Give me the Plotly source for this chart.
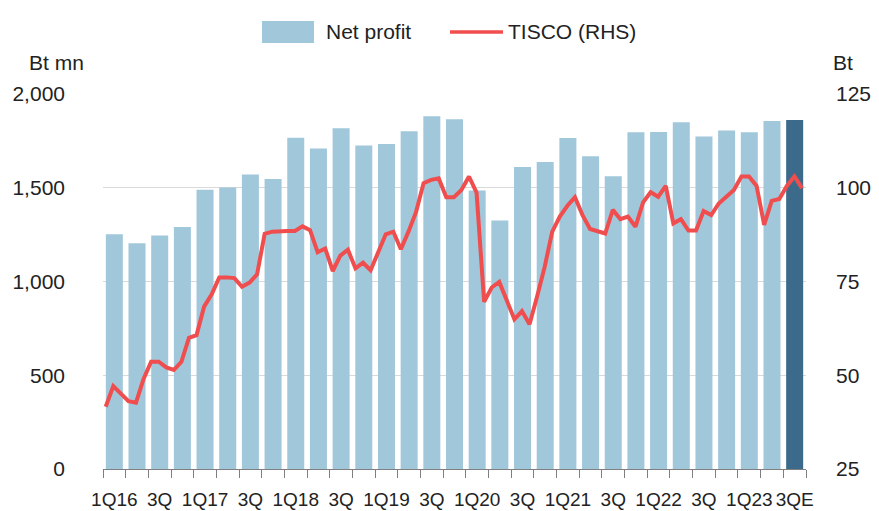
import plotly.graph_objects as go

# Quarterly net profit (Bt mn)
quarters = ["1Q16", "2Q16", "3Q16", "4Q16", "1Q17", "2Q17", "3Q17", "4Q17",
            "1Q18", "2Q18", "3Q18", "4Q18", "1Q19", "2Q19", "3Q19", "4Q19",
            "1Q20", "2Q20", "3Q20", "4Q20", "1Q21", "2Q21", "3Q21", "4Q21",
            "1Q22", "2Q22", "3Q22", "4Q22", "1Q23", "2Q23", "3Q23E"]
tick_labels = ["1Q16", "", "3Q", "", "1Q17", "", "3Q", "", "1Q18", "", "3Q", "",
               "1Q19", "", "3Q", "", "1Q20", "", "3Q", "", "1Q21", "", "3Q", "",
               "1Q22", "", "3Q", "", "1Q23", "", "3QE"]
net_profit = [1252, 1204, 1246, 1291, 1490, 1502, 1571, 1547,
              1767, 1710, 1817, 1726, 1733, 1801, 1881, 1865,
              1486, 1326, 1611, 1637, 1765, 1668, 1561, 1796,
              1797, 1849, 1773, 1806, 1796, 1856, 1861]

# Monthly TISCO share price (Bt), Jan-16 .. Sep-23
tisco_price = [41.6, 47.1, 45.1, 43.1, 42.7, 49.0, 53.6, 53.6, 52.1, 51.4,
               53.6, 60.0, 60.7, 68.3, 71.6, 76.1, 76.1, 75.9, 73.6, 74.7,
               76.9, 87.7, 88.3, 88.5, 88.5, 88.5, 89.7, 88.7, 82.8, 83.8,
               77.8, 81.9, 83.5, 78.5, 80.0, 78.0, 82.5, 87.6, 88.3, 83.6,
               88.3, 93.5, 101.2, 102.1, 102.5, 97.5, 97.5, 99.4, 103.0, 98.7,
               69.6, 73.4, 74.9, 69.6, 64.9, 67.1, 63.6, 71.0, 78.9, 88.3,
               92.3, 95.2, 97.5, 92.7, 89.0, 88.4, 87.8, 94.1, 91.6, 92.3,
               89.6, 96.1, 98.8, 97.6, 100.5, 90.5, 91.6, 88.6, 88.6, 93.8,
               92.7, 95.8, 97.6, 99.4, 103.0, 103.0, 100.5, 90.1, 96.5, 97.0,
               100.5, 103.0, 99.9]
months = list(range(len(tisco_price)))

LIGHT = "#A1C7DB"
DARK = "#3C6A8A"
RED = "#F04E4E"
FONT = "Liberation Sans, Arial, sans-serif"
TXT = "#222222"

bar_colors = [LIGHT] * (len(quarters) - 1) + [DARK]

fig = go.Figure()
fig.add_trace(go.Bar(
    x=quarters, y=net_profit, name="Net profit",
    marker=dict(color=bar_colors, line=dict(width=0)),
    showlegend=False, xaxis="x", yaxis="y",
))
fig.add_trace(go.Scatter(
    x=months, y=tisco_price, name="TISCO (RHS)", mode="lines",
    line=dict(color=RED, width=4),
    showlegend=False, xaxis="x2", yaxis="y2",
))

fig.update_layout(
    width=879, height=511,
    margin=dict(l=103, r=73, t=94, b=42, autoexpand=False),
    paper_bgcolor="white", plot_bgcolor="white",
    font=dict(family=FONT, size=20, color=TXT),
    bargap=0.25,
    xaxis=dict(
        type="category", tickmode="array", tickvals=quarters, ticktext=tick_labels,
        tickson="boundaries", ticks="outside", ticklen=8, tickcolor="#7F7F7F",
        showline=True, linecolor="#7F7F7F", linewidth=1,
        showgrid=False, tickangle=0, tickfont=dict(size=19, color=TXT),
        ticklabelstandoff=13,
        range=[-0.5, len(quarters) - 0.5], automargin=False,
    ),
    xaxis2=dict(
        overlaying="x", range=[-0.36, 92.53], visible=False, automargin=False,
    ),
    yaxis=dict(
        range=[0, 2000], tickvals=[0, 500, 1000, 1500, 2000],
        ticktext=["0", "500", "1,000", "1,500", "2,000"],
        showgrid=True, gridcolor="#D9D9D9", gridwidth=1,
        zeroline=False, showline=False, ticks="",
        ticklabelstandoff=37, tickfont=dict(size=21, color=TXT), automargin=False,
    ),
    yaxis2=dict(
        overlaying="y", side="right", range=[25, 125],
        tickvals=[25, 50, 75, 100, 125],
        showgrid=False, zeroline=False, showline=False, ticks="",
        ticklabelstandoff=29, tickfont=dict(size=21, color=TXT), automargin=False,
    ),
)

# Axis unit labels
fig.add_annotation(text="Bt mn", xref="paper", yref="paper", x=(56 - 103) / 703, y=1.0,
                   yshift=32, xanchor="center", yanchor="middle", showarrow=False,
                   font=dict(size=21, color=TXT))
fig.add_annotation(text="Bt", xref="paper", yref="paper", x=(843 - 103) / 703, y=1.0,
                   yshift=32, xanchor="center", yanchor="middle", showarrow=False,
                   font=dict(size=21, color=TXT))

# Custom legend (swatches + real text)
fig.add_shape(type="rect", xref="paper", yref="paper",
              x0=(262 - 103) / 703, x1=(314 - 103) / 703,
              y0=1 + (94 - 43) / 375, y1=1 + (94 - 21) / 375,
              fillcolor=LIGHT, line=dict(width=0))
fig.add_annotation(text="Net profit", xref="paper", yref="paper",
                   x=(324 - 103) / 703, y=1 + (94 - 31) / 375,
                   xanchor="left", yanchor="middle", showarrow=False,
                   font=dict(size=21, color=TXT))
fig.add_shape(type="line", xref="paper", yref="paper",
              x0=(450 - 103) / 703, x1=(503 - 103) / 703,
              y0=1 + (94 - 32) / 375, y1=1 + (94 - 32) / 375,
              line=dict(color=RED, width=3.5))
fig.add_annotation(text="TISCO (RHS)", xref="paper", yref="paper",
                   x=(506 - 103) / 703, y=1 + (94 - 31) / 375,
                   xanchor="left", yanchor="middle", showarrow=False,
                   font=dict(size=21, color=TXT))

fig.write_html("out.html", config={"displayModeBar": False},
               post_script="document.body.style.margin='0';")
